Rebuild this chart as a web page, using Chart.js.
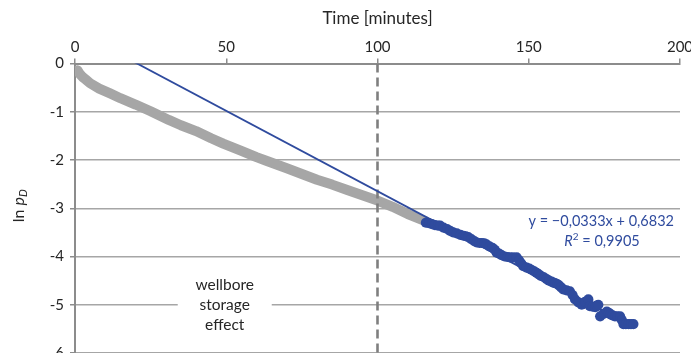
<!DOCTYPE html>
<html><head><meta charset="utf-8">
<script src="https://cdn.jsdelivr.net/npm/chart.js@4"></script>
<style>html,body{margin:0;padding:0;background:#fff;overflow:hidden}#wrap{width:691px;height:368px;position:relative}</style>
</head><body><div id="wrap"><canvas id="c"></canvas></div>
<script>
const timeTicks = [0, 50, 100, 150, 200];
const lnTicks = [0, -1, -2, -3, -4, -5, -6];
const grayTime = [0.8, 1.5, 2.5, 3.5, 5, 8, 11.6, 15, 20, 25, 31, 35, 40, 45, 49, 55, 60, 63, 70, 75, 80, 85, 90, 95, 100, 105, 110, 116];
const grayLn = [-0.14, -0.21, -0.28, -0.33, -0.41, -0.52, -0.62, -0.72, -0.85, -0.99, -1.17, -1.28, -1.40, -1.55, -1.66, -1.81, -1.94, -2.01, -2.17, -2.29, -2.41, -2.51, -2.62, -2.73, -2.84, -2.97, -3.12, -3.27];
const blueTime = [116, 117, 118, 119, 120, 120.7, 121.8, 123, 124, 125, 126.2, 127.4, 128.4, 129.2, 130, 131, 132, 132.8, 133.7, 134.5, 135.3, 136, 137, 138, 138.8, 139.4, 140.2, 141, 142, 142.9, 143.8, 144.8, 146, 146.8, 147.5, 148.2, 149.3, 150.2, 151, 151.8, 152.6, 153.3, 154, 155, 155.9, 156.7, 157.5, 158.1, 158.7, 159.4, 160, 160.7, 161.4, 162.5, 163.6, 164.5, 165.3, 166.4, 167.5, 168.6, 169.7, 170.2, 171.1, 172, 172.5, 173, 173.6, 174.7, 175.8, 176.5, 177, 177.7, 178.5, 179.3, 180.2, 180.8, 181.3, 182.1, 183, 183.8, 184.6];
const blueLn = [-3.30, -3.31, -3.33, -3.35, -3.36, -3.36, -3.40, -3.43, -3.47, -3.50, -3.52, -3.55, -3.57, -3.58, -3.60, -3.64, -3.68, -3.71, -3.72, -3.72, -3.73, -3.75, -3.79, -3.82, -3.86, -3.92, -3.94, -3.97, -4.00, -4.01, -4.02, -4.02, -4.02, -4.08, -4.14, -4.20, -4.23, -4.25, -4.28, -4.31, -4.34, -4.37, -4.40, -4.43, -4.47, -4.50, -4.52, -4.54, -4.55, -4.57, -4.60, -4.64, -4.68, -4.70, -4.72, -4.80, -4.89, -4.95, -5.00, -4.94, -4.89, -5.03, -5.04, -5.05, -5.02, -5.00, -5.24, -5.19, -5.14, -5.17, -5.20, -5.22, -5.24, -5.24, -5.24, -5.32, -5.40, -5.40, -5.40, -5.40, -5.40];
const trendSlope = -0.0333;
const trendIntercept = 0.6832;
const trendTime = [0, 184.6];
const boundaryTime = [100, 100];
const boundaryLn = [0, -6];
const eqText = 'y = \u22120,0333x + 0,6832';
const r2Value = '0,9905';
const noteLines = ['wellbore', 'storage', 'effect'];

const FONT = 'Lato, "Open Sans", sans-serif';
const BLUE = '#2F4B9E';
const pts = (xs, ys) => xs.map((x, i) => ({ x: x, y: ys[i] }));

function drawRuns(ctx, runs, x, y, align) {
  let w = 0;
  runs.forEach(r => { ctx.font = r.font; r.w = ctx.measureText(r.text).width; w += r.w; });
  let cx = align === 'right' ? x - w : align === 'center' ? x - w / 2 : x;
  ctx.textAlign = 'left';
  runs.forEach(r => { ctx.font = r.font; ctx.fillText(r.text, cx, y + (r.dy || 0)); cx += r.w; });
}

const textPlugin = {
  id: 'texts',
  afterDraw(chart) {
    const ctx = chart.ctx, ca = chart.chartArea, xs = chart.scales.x, ys = chart.scales.y;
    ctx.save();
    ctx.textBaseline = 'middle';
    ctx.save();
    ctx.translate(19, ys.getPixelForValue(-2.95));
    ctx.rotate(-Math.PI / 2);
    ctx.fillStyle = '#262626';
    drawRuns(ctx, [
      { text: 'ln ', font: '16px ' + FONT },
      { text: 'p', font: 'italic 16px ' + FONT },
      { text: 'D', font: 'italic 11px ' + FONT, dy: 4 }
    ], 0, 0, 'center');
    ctx.restore();
    ctx.fillStyle = BLUE;
    const ex = ca.right - 6, ey = ys.getPixelForValue(-3.28);
    drawRuns(ctx, [{ text: eqText, font: '14.5px ' + FONT }], ex, ey, 'right');
    drawRuns(ctx, [
      { text: 'R', font: 'italic 14.5px ' + FONT },
      { text: '2', font: '10px ' + FONT, dy: -5 },
      { text: ' = ' + r2Value, font: '14.5px ' + FONT }
    ], ex - 72, ey + 20, 'center');
    const nx = xs.getPixelForValue(49.5), ny = ys.getPixelForValue(-5);
    ctx.fillStyle = '#fff';
    ctx.fillRect(nx - 47, ny - 30, 94, 60);
    ctx.fillStyle = '#262626';
    noteLines.forEach((t, i) => drawRuns(ctx, [{ text: t, font: '15.5px ' + FONT }], nx, ny + (i - 1) * 20, 'center'));
    ctx.restore();
  }
};

new Chart(document.getElementById('c'), {
  type: 'scatter',
  data: {
    datasets: [
      { data: pts(blueTime, blueLn), pointRadius: 5.1, pointBackgroundColor: BLUE, pointBorderWidth: 0, showLine: false, order: 1 },
      { data: trendTime.map(t => ({ x: t, y: trendSlope * t + trendIntercept })), showLine: true, borderColor: BLUE, borderWidth: 1.8, pointRadius: 0, order: 2 },
      { data: pts(boundaryTime, boundaryLn), showLine: true, borderColor: '#7F7F7F', borderWidth: 2.6, borderDash: [9, 5], pointRadius: 0, order: 3 },
      { data: pts(grayTime, grayLn), showLine: true, borderColor: '#A6A6A6', borderWidth: 10, borderCapStyle: 'round', borderJoinStyle: 'round', pointRadius: 0, order: 4 }
    ]
  },
  options: {
    responsive: true, maintainAspectRatio: false, animation: false,
    layout: { padding: { left: 0, right: 0, top: 0, bottom: 0 } },
    plugins: { legend: { display: false }, tooltip: { enabled: false } },
    scales: {
      x: {
        type: 'linear', position: 'top', min: 0, max: 200,
        afterBuildTicks: s => { s.ticks = timeTicks.map(v => ({ value: v })); },
        afterFit: s => { s.height = 63.5; s.paddingRight = 11; },
        ticks: { font: { family: FONT, size: 15 }, color: '#262626', padding: 2, maxRotation: 0 },
        grid: { drawOnChartArea: false, drawTicks: true, tickLength: 5, color: '#8C8C8C', lineWidth: 1.5 },
        border: { display: true, color: '#8C8C8C', width: 2 },
        title: { display: true, text: 'Time [minutes]', font: { family: FONT, size: 17 }, color: '#262626', padding: { top: 8, bottom: 0 } }
      },
      y: {
        min: -6, max: 0,
        afterBuildTicks: s => { s.ticks = lnTicks.map(v => ({ value: v })); },
        afterFit: s => { s.width = 75; },
        ticks: { font: { family: FONT, size: 15 }, color: '#262626', padding: 6 },
        grid: { color: '#A6A6A6', lineWidth: 1.5, tickLength: 5, tickColor: '#8C8C8C' },
        border: { display: true, color: '#8C8C8C', width: 2 }
      }
    }
  },
  plugins: [textPlugin]
});
</script></body></html>
